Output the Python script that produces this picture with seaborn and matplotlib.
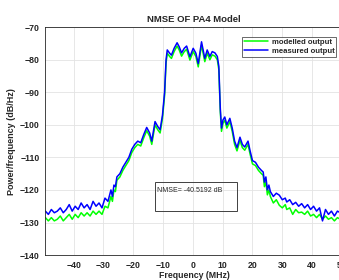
import pandas as pd
import matplotlib
matplotlib.use("Agg")
import matplotlib.pyplot as plt
import seaborn as sns

# frequency axis (MHz) and PSD of both outputs (dB/Hz)
freq = [-49.5, -48.5, -47.5, -46.5, -45.5, -44.5, -43.5, -42.5, -41.5, -40.5,
        -39.5, -38.5, -37.5, -36.5, -35.5, -34.5, -33.5, -32.5, -31.5, -30.5,
        -29.5, -28.5, -27.5, -27.0, -26.5, -26.0, -25.5, -24.5, -23.5, -22.5,
        -21.5, -20.5, -19.5, -18.5, -17.5, -16.5, -15.5, -14.5, -13.8, -12.7,
        -11.8, -11.0, -10.2, -9.5, -9.0, -8.6, -7.8, -7.2, -6.3, -5.3,
        -4.6, -3.8, -2.9, -2.1, -1.0, 0.1, 1.0, 1.8, 2.9, 4.0,
        4.8, 5.7, 6.5, 7.4, 8.2, 8.7, 9.2, 9.6, 10.1, 10.7,
        11.4, 12.4, 13.2, 14.0, 14.8, 15.8, 16.6, 17.4, 18.5, 19.2,
        20.0, 21.0, 22.0, 23.0, 23.6, 24.0, 24.5, 25.0, 25.5, 26.0,
        27.0, 28.0, 29.0, 30.0, 31.0, 31.5, 32.5, 33.5, 34.5, 35.5,
        36.5, 37.5, 38.5, 39.5, 40.5, 41.5, 42.5, 43.5, 44.5, 45.5,
        46.5, 47.5, 48.5, 49.5]

measured = [-126.5, -127.5, -126.0, -127.0, -126.5, -125.5, -127.0, -126.0, -124.5, -126.5,
            -125.0, -126.0, -124.0, -125.5, -124.5, -126.0, -123.5, -125.0, -124.0, -125.5,
            -122.5, -123.5, -120.0, -122.0, -118.5, -119.0, -116.0, -115.0, -113.0, -111.5,
            -110.0, -107.5, -106.0, -105.0, -105.5, -103.0, -100.8, -102.5, -105.0, -99.0,
            -100.5, -101.5, -97.0, -90.0, -80.0, -77.0, -78.0, -78.6, -76.5, -74.8,
            -76.0, -77.9, -76.5, -75.8, -79.1, -76.5, -78.0, -81.2, -74.5, -79.6,
            -77.0, -79.0, -77.5, -77.9, -79.0, -82.0, -95.0, -101.0, -98.5, -97.6,
            -100.0, -98.0, -101.0, -105.0, -107.0, -103.8, -106.0, -106.8, -105.0, -108.0,
            -111.0, -111.5, -113.0, -114.0, -114.5, -117.6, -116.0, -120.0, -118.5, -120.5,
            -122.0, -121.0, -121.6, -123.0, -122.5, -123.7, -123.0, -124.5, -123.8, -125.0,
            -124.2, -125.5, -124.5, -126.0, -125.0, -126.5, -125.5, -129.5, -126.0, -127.5,
            -126.5, -128.0, -126.5, -127.0]

modelled = [-128.5, -129.5, -128.5, -129.5, -129.0, -128.0, -129.5, -128.5, -127.5, -129.0,
            -127.5, -128.5, -127.0, -128.0, -127.0, -128.0, -126.5, -127.5, -126.5, -127.5,
            -125.0, -125.5, -122.0, -123.5, -120.0, -120.5, -117.0, -116.0, -114.0, -112.5,
            -111.0, -108.5, -107.0, -106.0, -106.5, -104.0, -101.8, -103.5, -106.0, -100.0,
            -101.5, -102.5, -98.0, -91.0, -81.0, -78.0, -79.0, -79.6, -77.5, -75.8,
            -77.0, -78.9, -77.5, -76.8, -80.1, -77.5, -79.0, -82.2, -75.5, -80.6,
            -78.0, -80.0, -78.5, -78.9, -80.0, -83.0, -96.0, -102.0, -99.5, -98.6,
            -101.0, -99.0, -102.0, -106.0, -108.0, -104.8, -107.0, -107.8, -106.0, -109.0,
            -112.0, -112.5, -114.0, -115.0, -115.5, -119.0, -117.5, -121.5, -120.0, -122.0,
            -124.0, -123.0, -124.7, -125.5, -124.5, -126.0, -125.5, -127.5, -126.0, -127.0,
            -126.8, -127.5, -126.5, -128.0, -127.5, -128.5, -127.5, -129.0, -128.0, -129.0,
            -128.5, -129.5, -128.5, -129.0]

nmse_db = -40.5192

df = pd.concat([
    pd.DataFrame({"freq": freq, "psd": modelled, "series": "modelled output"}),
    pd.DataFrame({"freq": freq, "psd": measured, "series": "measured output"}),
])

sns.set_style("whitegrid")
plt.rcParams["font.family"] = ["Liberation Sans", "DejaVu Sans"]

fig = plt.figure(figsize=(3.39, 2.8), dpi=100)
ax = fig.add_axes([0.133, 0.089, 0.879, 0.814])

sns.lineplot(data=df, x="freq", y="psd", hue="series",
             palette={"modelled output": "#00ff00", "measured output": "#0000ff"},
             estimator=None, sort=False, linewidth=1.1, ax=ax)

ax.set_xlim(-49.6, 50.4)
ax.set_ylim(-140, -70)
ax.set_xticks(range(-40, 51, 10))
ax.set_yticks(range(-140, -69, 10))
ax.grid(True, color="#e3e3e3", linewidth=0.6)
for sp in ax.spines.values():
    sp.set_color("#262626")
    sp.set_linewidth(0.6)
ax.tick_params(direction="in", length=2, width=0.5, labelsize=6.3, pad=4, colors="#262626")
for lab in ax.get_xticklabels() + ax.get_yticklabels():
    lab.set_fontweight("bold")

ax.set_title("NMSE OF PA4 Model", fontsize=6.8, fontweight="bold", pad=4)
ax.set_xlabel("Frequency (MHz)", fontsize=6.3, fontweight="bold", labelpad=1)
ax.set_ylabel("Power/frequency (dB/Hz)", fontsize=6.5, fontweight="bold", labelpad=3)

leg = ax.legend(loc="upper right", bbox_to_anchor=(0.99, 0.975),
                prop={"weight": "bold", "size": 5.6}, frameon=True, fancybox=False,
                handlelength=3.2, handletextpad=0.4, borderpad=0.25, labelspacing=0.2)
leg.get_frame().set_edgecolor("#262626")
leg.get_frame().set_linewidth(0.6)

ax.text(-12.0, -120.3, f"NMSE= {nmse_db:.4f} dB", fontsize=5, va="center", ha="left",
        color="#262626", zorder=5)
box = plt.Rectangle((-12.8, -126.5), 27.5, 9.0, fill=False, edgecolor="#404040",
                    linewidth=0.7, zorder=5)
ax.add_patch(box)

fig.savefig("out.png", dpi=100)
